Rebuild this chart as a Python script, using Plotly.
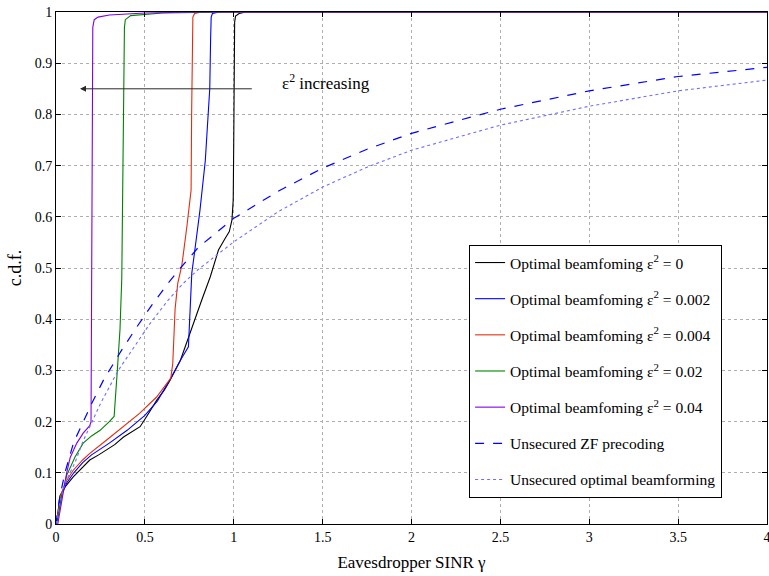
import plotly.graph_objects as go

# Empirical CDFs of the eavesdropper SINR
x_eps0 = [0, 0.01, 0.022, 0.05, 0.097, 0.15, 0.19, 0.24, 0.285, 0.33, 0.38, 0.43, 0.473, 0.51, 0.567,
          0.61, 0.642, 0.7, 0.745, 0.79, 0.82, 0.868, 0.914, 0.952, 0.975, 0.99, 0.997, 1.0, 1.003,
          1.005, 1.01, 1.03, 1.07, 1.2, 4.0]
y_eps0 = [0, 0.02, 0.055, 0.072, 0.092, 0.11, 0.125, 0.135, 0.145, 0.155, 0.17, 0.18, 0.19, 0.21, 0.242,
          0.262, 0.281, 0.32, 0.365, 0.41, 0.4375, 0.483, 0.535, 0.558, 0.571, 0.594, 0.633, 0.75, 0.9,
          0.98, 0.992, 0.997, 1.0, 1.0, 1.0]

x_eps0002 = [0, 0.01, 0.03, 0.06, 0.1, 0.15, 0.2, 0.3, 0.4, 0.5, 0.57, 0.646, 0.7, 0.745, 0.755, 0.764,
             0.783, 0.81, 0.84, 0.857, 0.865, 0.87, 0.873, 0.88, 0.92, 1.0, 4.0]
y_eps0002 = [0, 0.02, 0.055, 0.08, 0.1, 0.12, 0.135, 0.158, 0.183, 0.212, 0.24, 0.285, 0.32, 0.346, 0.424,
             0.49, 0.54, 0.613, 0.71, 0.795, 0.85, 0.95, 0.99, 0.997, 1.0, 1.0, 1.0]

x_eps0004 = [0, 0.01, 0.03, 0.06, 0.097, 0.15, 0.19, 0.285, 0.38, 0.47, 0.566, 0.646, 0.657, 0.67, 0.685,
             0.708, 0.736, 0.755, 0.76, 0.763, 0.766, 0.77, 0.78, 0.82, 1.0, 4.0]
y_eps0004 = [0, 0.02, 0.06, 0.085, 0.105, 0.125, 0.138, 0.164, 0.19, 0.216, 0.248, 0.285, 0.314, 0.42, 0.47,
             0.505, 0.58, 0.633, 0.652, 0.8, 0.95, 0.99, 0.997, 1.0, 1.0, 1.0]

x_eps002 = [0, 0.01, 0.03, 0.06, 0.107, 0.153, 0.2, 0.248, 0.3, 0.327, 0.345, 0.36, 0.37, 0.375, 0.38,
            0.385, 0.39, 0.42, 0.6, 1.0, 4.0]
y_eps002 = [0, 0.01, 0.05, 0.095, 0.131, 0.158, 0.172, 0.183, 0.2, 0.21, 0.3, 0.38, 0.48, 0.7, 0.9,
            0.97, 0.985, 0.993, 0.998, 1.0, 1.0]

x_eps004 = [0, 0.01, 0.02, 0.03, 0.04, 0.06, 0.08, 0.117, 0.154, 0.19, 0.197, 0.2, 0.205, 0.207, 0.215,
            0.237, 0.3, 0.5, 0.8, 4.0]
y_eps004 = [0, 0.0, 0.02, 0.04, 0.06, 0.1, 0.13, 0.158, 0.178, 0.192, 0.2, 0.5, 0.9, 0.97, 0.985,
            0.99, 0.994, 0.998, 1.0, 1.0]

x_zf = [0, 0.02, 0.05, 0.1, 0.154, 0.2, 0.267, 0.37, 0.455, 0.54, 0.63, 0.7, 0.8, 1.0, 1.25, 1.5,
        1.75, 2.0, 2.38, 2.5, 3.0, 3.5, 4.0]
y_zf = [0, 0.05, 0.1, 0.16, 0.2, 0.235, 0.281, 0.34, 0.385, 0.428, 0.47, 0.5, 0.54, 0.597, 0.65, 0.695,
        0.732, 0.763, 0.799, 0.81, 0.846, 0.874, 0.892]

x_unsec = [0, 0.02, 0.05, 0.107, 0.15, 0.19, 0.25, 0.35, 0.473, 0.53, 0.63, 0.716, 0.8, 0.905, 1.0,
           1.25, 1.5, 1.75, 2.0, 2.5, 3.0, 3.5, 4.0]
y_unsec = [0, 0.04, 0.08, 0.12, 0.16, 0.19, 0.235, 0.3, 0.363, 0.392, 0.437, 0.47, 0.497, 0.525, 0.551,
           0.61, 0.658, 0.697, 0.73, 0.779, 0.816, 0.846, 0.867]

x_ticks = [0, 0.5, 1, 1.5, 2, 2.5, 3, 3.5, 4]
x_tick_text = ["0", "0.5", "1", "1.5", "2", "2.5", "3", "3.5", "4"]
y_ticks = [0, 0.1, 0.2, 0.3, 0.4, 0.5, 0.6, 0.7, 0.8, 0.9, 1]
y_tick_text = ["0", "0.1", "0.2", "0.3", "0.4", "0.5", "0.6", "0.7", "0.8", "0.9", "1"]

FONT = "Liberation Serif"

series = [
    (x_eps0, y_eps0, "Optimal beamfoming ε<sup>2</sup> = 0", "black", "solid", 1.1),
    (x_eps0002, y_eps0002, "Optimal beamfoming ε<sup>2</sup> = 0.002", "rgb(0,0,255)", "solid", 1.1),
    (x_eps0004, y_eps0004, "Optimal beamfoming ε<sup>2</sup> = 0.004", "rgb(225,45,15)", "solid", 1.1),
    (x_eps002, y_eps002, "Optimal beamfoming ε<sup>2</sup> = 0.02", "rgb(0,130,0)", "solid", 1.1),
    (x_eps004, y_eps004, "Optimal beamfoming ε<sup>2</sup> = 0.04", "rgb(125,0,230)", "solid", 1.1),
    (x_zf, y_zf, "Unsecured ZF precoding", "rgb(0,0,255)", "dash", 1.2),
    (x_unsec, y_unsec, "Unsecured optimal beamforming", "rgb(110,110,255)", "dot", 1.1),
]

fig = go.Figure()
for i, (xs, ys, name, color, dash, width) in enumerate(series):
    fig.add_trace(go.Scatter(x=xs, y=ys, mode="lines", name=name, legendgroup=f"g{i}",
                             line=dict(color=color, dash=dash, width=width)))

axis_common = dict(
    showline=True, linecolor="black", linewidth=1, mirror="allticks",
    ticks="inside", ticklen=5, tickcolor="black",
    showgrid=True, gridcolor="rgb(175,175,175)", griddash="dot", gridwidth=1,
    zeroline=False, tickfont=dict(family=FONT, size=14, color="black"),
    ticklabeloverflow="allow", automargin=False,
)

fig.update_xaxes(range=[0, 4], tickvals=x_ticks, ticktext=x_tick_text,
                 title=dict(text="Eavesdropper SINR γ", font=dict(family=FONT, size=17, color="black"),
                            standoff=12),
                 **axis_common)
fig.update_yaxes(range=[0, 1], tickvals=y_ticks, ticktext=y_tick_text,
                 title=dict(text="c.d.f.", font=dict(family=FONT, size=18, color="black"), standoff=8),
                 **axis_common)

# Arrow showing the effect of growing estimation error
fig.add_annotation(x=0.135, y=0.85, ax=1.11, ay=0.85, xref="x", yref="y", axref="x", ayref="y",
                   text="", showarrow=True, arrowhead=2, arrowsize=1.2, arrowwidth=1,
                   arrowcolor="rgb(40,40,40)")
fig.add_annotation(x=1.26, y=0.864, xref="x", yref="y", text="ε<sup>2</sup> increasing",
                   showarrow=False, xanchor="left", yanchor="middle",
                   font=dict(family=FONT, size=17, color="black"))

fig.update_layout(
    width=769, height=576,
    margin=dict(l=56, r=2, t=12, b=52),
    paper_bgcolor="white", plot_bgcolor="white",
    font=dict(family=FONT, size=15, color="black"),
    showlegend=True,
    legend=dict(x=0.581, y=0.545, xanchor="left", yanchor="top",
                bgcolor="white", bordercolor="black", borderwidth=1,
                font=dict(family=FONT, size=15.5, color="black"),
                tracegroupgap=13, itemwidth=30),
)

fig.write_html("out.html")
